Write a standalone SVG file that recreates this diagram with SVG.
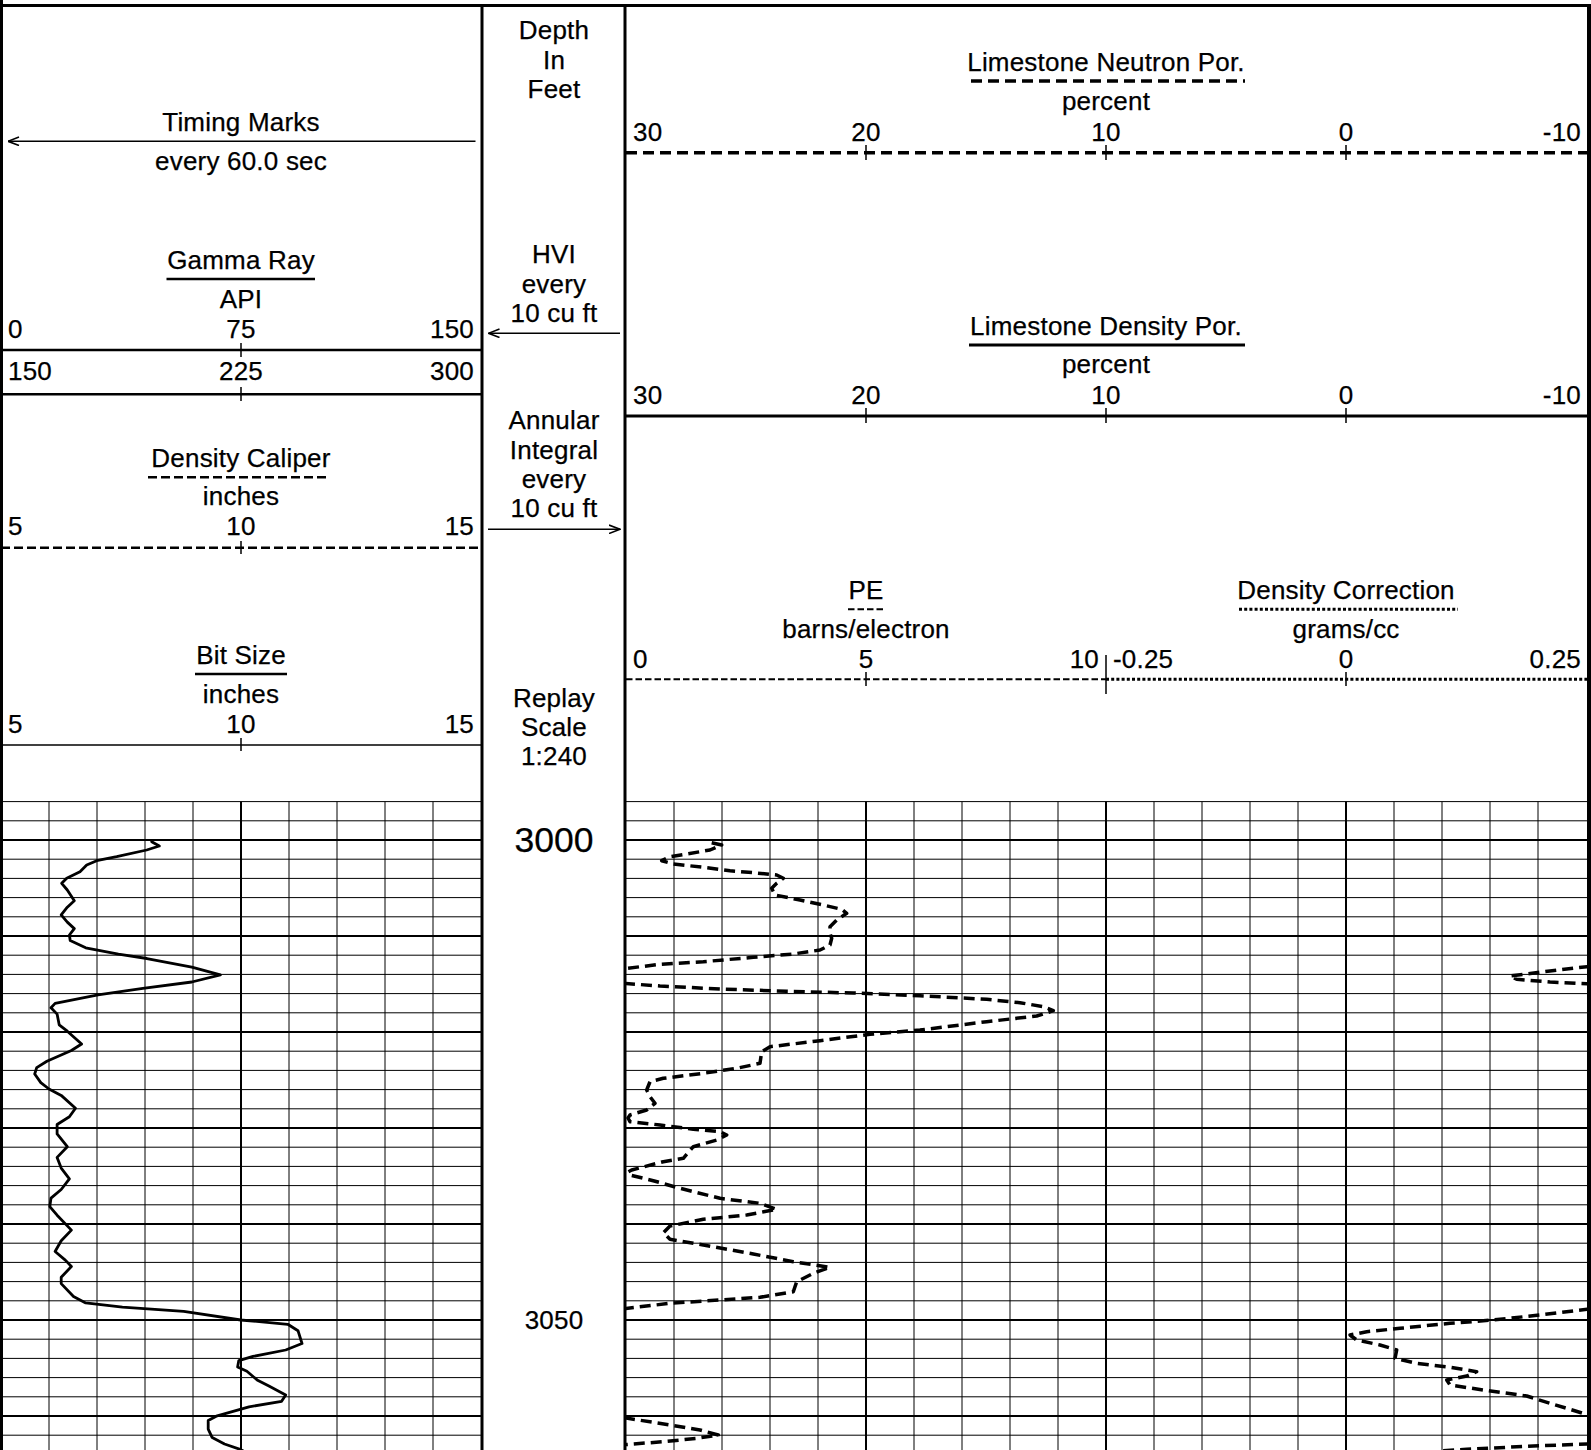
<svg xmlns="http://www.w3.org/2000/svg" width="1591" height="1450" viewBox="0 0 1591 1450">
<style>
.t{font-family:"Liberation Sans",Arial,Helvetica,sans-serif;font-size:26px;letter-spacing:0.2px;fill:#000;stroke:#000;stroke-width:0.25;text-anchor:middle}
.s{text-anchor:start}.e{text-anchor:end}.big{font-size:35.5px;letter-spacing:0}
.ln{stroke:#000;fill:none}
.gmin{stroke:#000;stroke-width:1;fill:none}
.gmaj{stroke:#000;stroke-width:2.2;fill:none}
.gvmaj{stroke:#000;stroke-width:2;fill:none}
.border{stroke:#000;stroke-width:3;fill:none}
.heavydash{stroke:#000;fill:none;stroke-width:3.5;stroke-dasharray:11 6}
.thindash{stroke:#000;fill:none;stroke-width:2.5;stroke-dasharray:9 4}
.pedash{stroke:#000;fill:none;stroke-width:2;stroke-dasharray:6.5 3}
.dot{stroke:#000;fill:none;stroke-width:3;stroke-dasharray:3 2.2}
.curve{stroke:#000;fill:none;stroke-width:2.8;stroke-linejoin:round;stroke-linecap:round}
.dcurve{stroke:#000;fill:none;stroke-width:3.5;stroke-dasharray:11 6;stroke-linejoin:round}
.arrow{stroke:#000;stroke-width:1.5;fill:none}
</style>
<defs>
<marker id="ah" markerUnits="userSpaceOnUse" viewBox="0 0 12 10" markerWidth="12" markerHeight="10" refX="11.5" refY="5" orient="auto">
<path d="M0.5,0.8 L11.5,5 L0.5,9.2" fill="none" stroke="#000" stroke-width="1.6"/>
</marker>
<clipPath id="clipR"><rect x="626" y="795" width="961" height="655"/></clipPath>
<clipPath id="clipL"><rect x="2" y="795" width="479" height="655"/></clipPath>
</defs>
<rect x="0" y="0" width="1591" height="1450" fill="#fff"/>

<g id="grid">
<path class="gmin" d="M1,801.6H482M1,820.8H482M1,859.2H482M1,878.4H482M1,897.6H482M1,916.8H482M1,955.2H482M1,974.4H482M1,993.6H482M1,1012.8H482M1,1051.2H482M1,1070.4H482M1,1089.6H482M1,1108.8H482M1,1147.2H482M1,1166.4H482M1,1185.6H482M1,1204.8H482M1,1243.2H482M1,1262.4H482M1,1281.6H482M1,1300.8H482M1,1339.2H482M1,1358.4H482M1,1377.6H482M1,1396.8H482M1,1435.2H482"/>
<path class="gmin" d="M626,801.6H1588M626,820.8H1588M626,859.2H1588M626,878.4H1588M626,897.6H1588M626,916.8H1588M626,955.2H1588M626,974.4H1588M626,993.6H1588M626,1012.8H1588M626,1051.2H1588M626,1070.4H1588M626,1089.6H1588M626,1108.8H1588M626,1147.2H1588M626,1166.4H1588M626,1185.6H1588M626,1204.8H1588M626,1243.2H1588M626,1262.4H1588M626,1281.6H1588M626,1300.8H1588M626,1339.2H1588M626,1358.4H1588M626,1377.6H1588M626,1396.8H1588M626,1435.2H1588"/>
<path class="gmaj" d="M1,840H482M1,936H482M1,1032H482M1,1128H482M1,1224H482M1,1320H482M1,1416H482M626,840H1588M626,936H1588M626,1032H1588M626,1128H1588M626,1224H1588M626,1320H1588M626,1416H1588"/>
<path class="gmin" d="M49,801.6V1450M97,801.6V1450M145,801.6V1450M193,801.6V1450M289,801.6V1450M337,801.6V1450M385,801.6V1450M433,801.6V1450M674,801.6V1450M722,801.6V1450M770,801.6V1450M818,801.6V1450M914,801.6V1450M962,801.6V1450M1010,801.6V1450M1058,801.6V1450M1154,801.6V1450M1202,801.6V1450M1250,801.6V1450M1298,801.6V1450M1394,801.6V1450M1442,801.6V1450M1490,801.6V1450M1538,801.6V1450"/>
<path class="gvmaj" d="M241,801.6V1450M866,801.6V1450M1106,801.6V1450M1346,801.6V1450"/>
</g>

<g id="borders">
<path class="border" d="M0,5.5H1591M1.5,0V1450M482,5V1450M625,5V1450"/>
<path class="ln" stroke-width="4" d="M1589,5V1450"/>
</g>

<g id="track1-header">
<text class="t" x="241" y="130.7">Timing Marks</text>
<text class="t" x="241" y="170">every 60.0 sec</text>
<text class="t" x="241" y="269.3">Gamma Ray</text>
<path class="ln" stroke-width="2.5" d="M166.5,279H315"/>
<text class="t" x="241" y="308.3">API</text>
<text class="t s" x="8" y="337.7">0</text>
<text class="t" x="241" y="337.7">75</text>
<text class="t e" x="474" y="337.7">150</text>
<path class="ln" stroke-width="2.5" d="M1,350H482"/>
<path class="ln" stroke-width="1.5" d="M241,343V357"/>
<text class="t s" x="8" y="380">150</text>
<text class="t" x="241" y="380">225</text>
<text class="t e" x="474" y="380">300</text>
<path class="ln" stroke-width="2.5" d="M1,394.3H482"/>
<path class="ln" stroke-width="1.5" d="M241,387V401"/>
<text class="t" x="241" y="466.7">Density Caliper</text>
<path class="thindash" d="M148,477.3H327"/>
<text class="t" x="241" y="505.3">inches</text>
<text class="t s" x="8" y="535">5</text>
<text class="t" x="241" y="535">10</text>
<text class="t e" x="474" y="535">15</text>
<path class="thindash" d="M1,547.7H482"/>
<path class="ln" stroke-width="1.5" d="M241,541V554"/>
<text class="t" x="241" y="664.3">Bit Size</text>
<path class="ln" stroke-width="2.5" d="M195,674H287"/>
<text class="t" x="241" y="702.7">inches</text>
<text class="t s" x="8" y="732.7">5</text>
<text class="t" x="241" y="732.7">10</text>
<text class="t e" x="474" y="732.7">15</text>
<path class="ln" stroke-width="1.6" d="M1,745H482"/>
<path class="ln" stroke-width="1.5" d="M241,738V751"/>
</g>

<g id="depth-track">
<text class="t" x="554" y="39.3">Depth</text>
<text class="t" x="554" y="68.6">In</text>
<text class="t" x="554" y="97.9">Feet</text>
<text class="t" x="554" y="263.3">HVI</text>
<text class="t" x="554" y="292.6">every</text>
<text class="t" x="554" y="322">10 cu ft</text>
<text class="t" x="554" y="429.3">Annular</text>
<text class="t" x="554" y="458.6">Integral</text>
<text class="t" x="554" y="487.9">every</text>
<text class="t" x="554" y="517.2">10 cu ft</text>
<text class="t" x="554" y="706.7">Replay</text>
<text class="t" x="554" y="736">Scale</text>
<text class="t" x="554" y="765.3">1:240</text>
<text class="t big" x="554" y="851.5">3000</text>
<text class="t" x="554" y="1328.5">3050</text>
</g>

<g id="track23-header">
<text class="t" x="1106" y="71">Limestone Neutron Por.</text>
<path class="heavydash" d="M971,81H1245"/>
<text class="t" x="1106" y="110">percent</text>
<text class="t s" x="633" y="140.7">30</text>
<text class="t" x="866" y="140.7">20</text>
<text class="t" x="1106" y="140.7">10</text>
<text class="t" x="1346" y="140.7">0</text>
<text class="t e" x="1581" y="140.7">-10</text>
<path class="heavydash" d="M626,152.7H1587"/>
<path class="ln" stroke-width="1.5" d="M866,145V160M1106,145V160M1346,145V160"/>
<text class="t" x="1106" y="335">Limestone Density Por.</text>
<path class="ln" stroke-width="3" d="M969,345H1245"/>
<text class="t" x="1106" y="373.3">percent</text>
<text class="t s" x="633" y="404">30</text>
<text class="t" x="866" y="404">20</text>
<text class="t" x="1106" y="404">10</text>
<text class="t" x="1346" y="404">0</text>
<text class="t e" x="1581" y="404">-10</text>
<path class="ln" stroke-width="3" d="M626,416H1587"/>
<path class="ln" stroke-width="1.5" d="M866,408V423M1106,408V423M1346,408V423"/>
<text class="t" x="866" y="599.3">PE</text>
<path class="pedash" d="M848,609.3H884.5"/>
<text class="t" x="866" y="638.3">barns/electron</text>
<text class="t s" x="633" y="668.3">0</text>
<text class="t" x="866" y="668.3">5</text>
<text class="t e" x="1099" y="668.3">10</text>
<text class="t" x="1346" y="599.3">Density Correction</text>
<path class="dot" d="M1239,609.3H1458"/>
<text class="t" x="1346" y="638.3">grams/cc</text>
<text class="t s" x="1113" y="668.3">-0.25</text>
<text class="t" x="1346" y="668.3">0</text>
<text class="t e" x="1581" y="668.3">0.25</text>
<path class="pedash" d="M626,679.3H1106"/>
<path class="dot" d="M1106,679.3H1587"/>
<path class="ln" stroke-width="1.5" d="M866,672V686M1346,672V686M1106,655V694"/>
</g>

<g id="connectors">
<path class="arrow" d="M475.5,141.3H8" marker-end="url(#ah)"/>
<path class="arrow" d="M620,333.3H488.5" marker-end="url(#ah)"/>
<path class="arrow" d="M488,529.3H620" marker-end="url(#ah)"/>
</g>

<g id="curves">
<polyline class="curve" clip-path="url(#clipL)" points="151.7,841.7 159.3,846 146.7,850 116.7,856.7 96.7,860.7 86.7,865 80,871.7 66.7,878.3 61.7,883.3 67.3,890 74.3,900.7 67.3,907.2 61.2,914.9 67.3,922.1 74.3,928.6 69.4,935 70.2,940.5 85.7,947.8 118.4,954.2 146.9,958.5 191.8,967.1 220.4,974.8 191.8,982 142.9,988.4 98,994.9 55.1,1003.4 51,1007.7 57.1,1014.1 59.2,1024.8 67.3,1031.2 81.6,1044 71.4,1050.5 46.9,1061.2 36.7,1067.6 34.7,1074 40.8,1082.6 49,1089 61.2,1095.4 75.5,1108.2 69.4,1116.8 57.1,1124.5 57.1,1133.9 67.3,1146.7 57.1,1157.4 61.2,1168.1 69.4,1178.8 61.2,1189.5 51,1198.1 49.8,1206.6 57.1,1215.2 71.4,1230.1 61.2,1240.8 55.1,1251.5 65.3,1260.1 71.4,1266.5 61.2,1277.2 61.2,1283.6 73.5,1296.5 85.7,1302.9 122.4,1307.2 183.7,1311.4 240.8,1320 287.8,1324.3 298,1330.7 302,1343.5 285.7,1350 253,1356.4 238.8,1360.6 237.6,1367 246.9,1371.3 257.1,1379.9 269.4,1386.3 285.7,1394.9 281.6,1401.3 249,1406.8 216.3,1416.2 208.2,1420.5 208.2,1429.1 212.2,1437.6 224.5,1444 240.8,1449.6 245,1452"/>
<g clip-path="url(#clipR)">
<polyline class="dcurve" points="711.7,842.7 721.7,845 710,850 686.7,854 670,856.7 661.7,860.7 673.3,864 703.3,867.3 730,870.7 753.3,872.7 776.7,875 783.3,878.3 776.7,883.3 771.7,888.3 775,895 800,900 823.3,905 841.7,909.3 846.7,913.3 836.7,920 830,926.7 830,933.3 831.7,938.3 830,945 820,950 793.3,954 753.3,957.3 703.3,961.7 660,964.3 624,968.7"/>
<polyline class="dcurve" points="1590,966.3 1550,971 1510,976 1516.7,979.3 1550,982 1590,984"/>
<polyline class="dcurve" points="624,983.4 660,986 720,989 786.7,991.3 853.3,993 920,995.7 986.7,999.3 1020,1002.7 1043.3,1006.7 1053.3,1010.7 1036.7,1016 986.7,1021.7 920,1030 870,1034.3 820,1040.7 770,1046.7 761.7,1051.7 760,1063.3 736.7,1068.3 703.3,1073.3 663.3,1078.3 650,1081.7 646.7,1090 650,1096.7 655,1103.3 646.7,1110 630,1115 628,1118 630,1121.7 660,1125 693.3,1129.3 720,1131.7 726.7,1135 716.7,1140 693.3,1146.7 683.3,1158.3 663.3,1161.7 631.7,1170 628,1172 630,1175 653.3,1180.7 680,1188.3 720,1198.3 760,1203.3 776.7,1209.3 746.7,1215 703.3,1219.3 670,1226 663.3,1232.7 670,1239.3 703.3,1245 753.3,1254 793.3,1261.7 830,1267.3 813.3,1273.3 796.7,1281.7 793.3,1291.7 760,1297.3 720,1300 670,1303.3 624,1308.7"/>
<polyline class="dcurve" points="1590,1309 1540,1315 1493.3,1320 1450,1323.3 1400,1328.3 1366.7,1331.7 1350,1335 1356.7,1340 1380,1345 1396.7,1350 1395,1358.3 1416.7,1363.3 1450,1367.3 1476.7,1371.7 1466.7,1376 1446.7,1380 1450,1385 1483.3,1390 1526.7,1396 1550,1403.3 1566.7,1408.3 1590,1415.5"/>
<polyline class="dcurve" points="624,1417.7 670,1425 700,1430 718.3,1435 696.7,1438.3 663.3,1441.7 624,1444.7"/>
<polyline class="dcurve" points="1590,1443.9 1533.3,1446 1466.7,1449.3 1440,1451"/>
</g>
</g>
</svg>
